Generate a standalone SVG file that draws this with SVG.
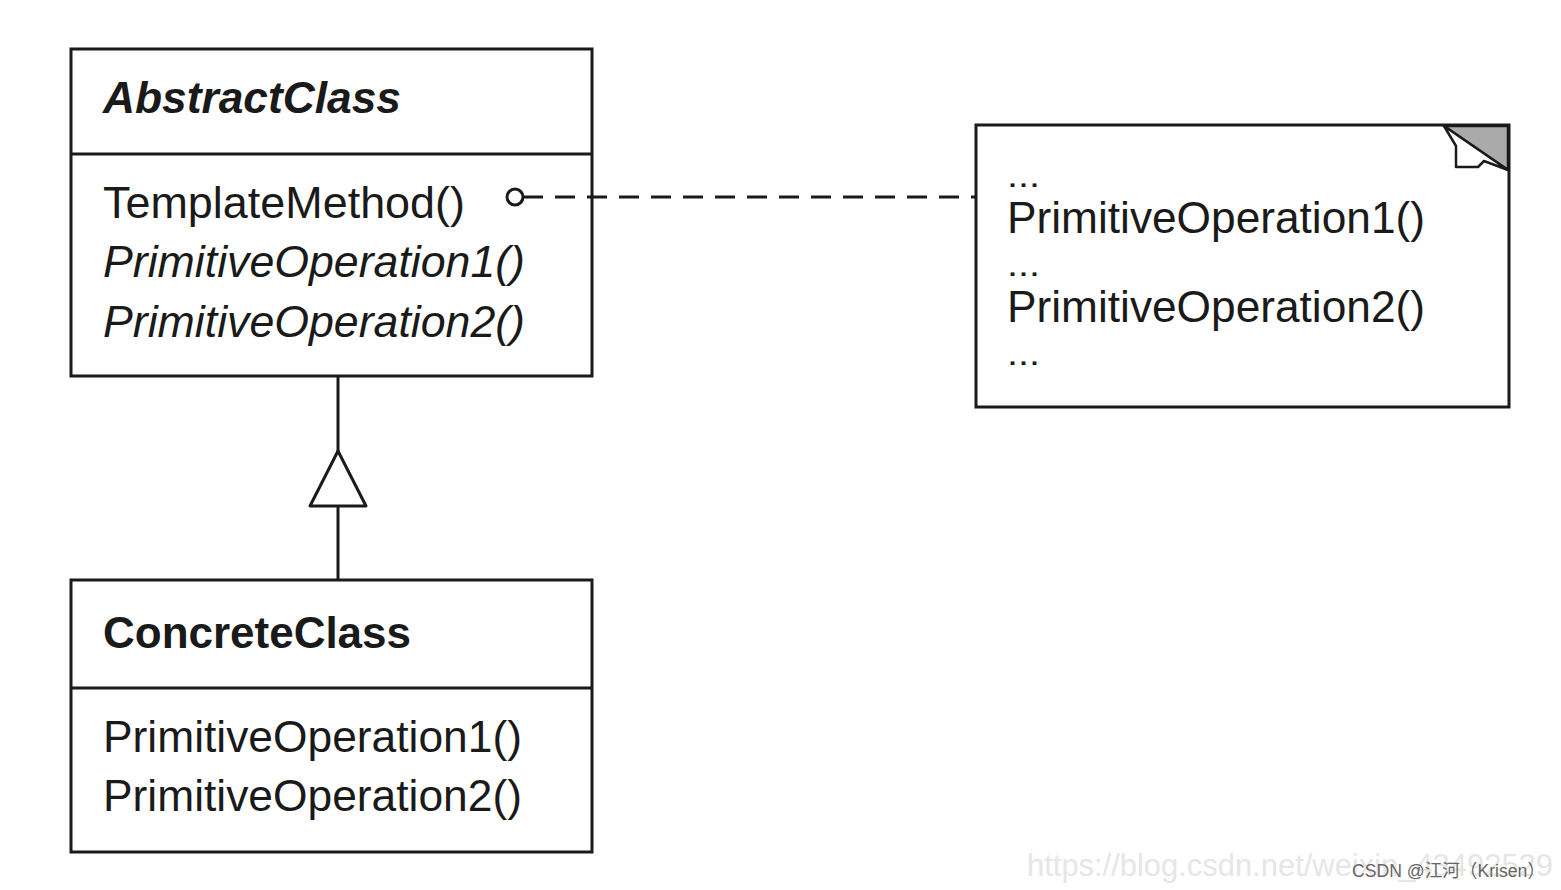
<svg xmlns="http://www.w3.org/2000/svg" width="1561" height="890" viewBox="0 0 1561 890">
<style>
.box{fill:#fff;stroke:#1a1a1a;stroke-width:3}
.ln{stroke:#1a1a1a;stroke-width:3;fill:none}
.t{font-family:"Liberation Sans",Arial,sans-serif;font-size:44px;fill:#1a1a1a}
.d{font-family:"Liberation Sans",Arial,sans-serif;font-size:34px;fill:#1a1a1a}
.b{font-weight:bold}
.i{font-style:italic}
</style>
<rect width="1561" height="890" fill="#fff"/>
<g id="abstractClass">
<rect class="box" x="71" y="49" width="521" height="327"/>
<line class="ln" x1="71" y1="154" x2="592" y2="154"/>
<text class="t b i" x="103" y="113" textLength="298" lengthAdjust="spacingAndGlyphs">AbstractClass</text>
<text class="t" x="103" y="218" textLength="362" lengthAdjust="spacingAndGlyphs">TemplateMethod()</text>
<text class="t i" x="103" y="277" textLength="422" lengthAdjust="spacingAndGlyphs">PrimitiveOperation1()</text>
<text class="t i" x="103" y="337" textLength="422" lengthAdjust="spacingAndGlyphs">PrimitiveOperation2()</text>
</g>
<g id="concreteClass">
<rect class="box" x="71" y="580" width="521" height="272"/>
<line class="ln" x1="71" y1="688" x2="592" y2="688"/>
<text class="t b" x="103" y="648" textLength="308" lengthAdjust="spacingAndGlyphs">ConcreteClass</text>
<text class="t" x="103" y="752" textLength="419" lengthAdjust="spacingAndGlyphs">PrimitiveOperation1()</text>
<text class="t" x="103" y="811" textLength="419" lengthAdjust="spacingAndGlyphs">PrimitiveOperation2()</text>
</g>
<g id="note">
<rect class="box" x="976" y="125" width="533" height="282"/>
<polygon points="1444,126 1508,126 1508,170" fill="#aaa" stroke="#1a1a1a" stroke-width="2.5" stroke-linejoin="round"/>
<polygon points="1444,126 1456,146 1456,167 1478,167 1484,161 1508,170" fill="#fff" stroke="#1a1a1a" stroke-width="2.5" stroke-linejoin="round"/>
<text class="d" x="1007" y="187" textLength="33" lengthAdjust="spacingAndGlyphs">...</text>
<text class="t" x="1007" y="233" textLength="418" lengthAdjust="spacingAndGlyphs">PrimitiveOperation1()</text>
<text class="d" x="1007" y="276" textLength="33" lengthAdjust="spacingAndGlyphs">...</text>
<text class="t" x="1007" y="322" textLength="418" lengthAdjust="spacingAndGlyphs">PrimitiveOperation2()</text>
<text class="d" x="1007" y="365" textLength="33" lengthAdjust="spacingAndGlyphs">...</text>
</g>
<g id="connectors">
<line class="ln" x1="523" y1="197" x2="975" y2="197" stroke-dasharray="20 12"/>
<circle cx="515" cy="197" r="8" fill="#fff" stroke="#1a1a1a" stroke-width="3"/>
<line class="ln" x1="338" y1="376" x2="338" y2="451"/>
<polygon points="338,451 310,506 366,506" fill="#fff" stroke="#1a1a1a" stroke-width="3" stroke-linejoin="round"/>
<line class="ln" x1="338" y1="506" x2="338" y2="580"/>
</g>
<text x="1027" y="876" font-family="Liberation Sans,Arial,sans-serif" font-size="31" fill="#e6e6e6" textLength="526" lengthAdjust="spacingAndGlyphs">https://blog.csdn.net/weixin_43492529</text>
<text x="1352" y="877" font-family="Liberation Sans,'Noto Sans CJK SC',sans-serif" font-size="18" fill="#666" textLength="193" lengthAdjust="spacingAndGlyphs">CSDN @江河（Krisen）</text>
</svg>
